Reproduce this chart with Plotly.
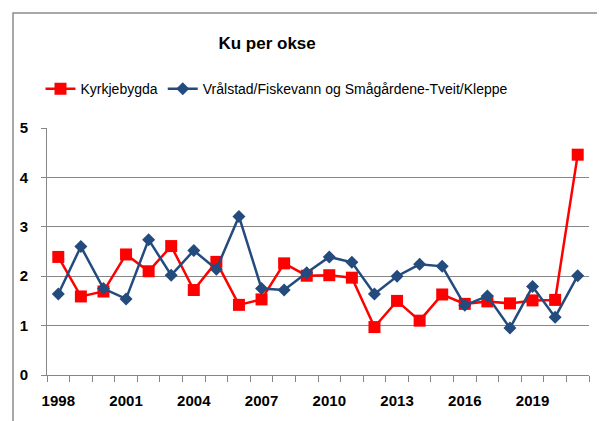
import plotly.graph_objects as go

years = list(range(1998, 2022))
kyrkjebygda = [2.39, 1.59, 1.69, 2.44, 2.10, 2.61, 1.72, 2.29, 1.42, 1.53, 2.26, 2.01,
               2.02, 1.97, 0.97, 1.50, 1.10, 1.63, 1.44, 1.49, 1.45, 1.51, 1.52, 4.46]
vralstad = [1.64, 2.60, 1.75, 1.54, 2.74, 2.02, 2.52, 2.14, 3.21, 1.75, 1.72, 2.07,
            2.39, 2.28, 1.64, 2.00, 2.24, 2.20, 1.41, 1.60, 0.95, 1.79, 1.17, 2.01]
tick_years = [1998, 2001, 2004, 2007, 2010, 2013, 2016, 2019]

FONT = "Liberation Sans, Arial, sans-serif"
GRAY = "#868686"

fig = go.Figure()
fig.add_trace(go.Scatter(x=years, y=kyrkjebygda, name="Kyrkjebygda", mode="lines+markers",
                         line=dict(color="#FF0000", width=2.5),
                         marker=dict(symbol="square", size=12, color="#FF0000")))
fig.add_trace(go.Scatter(x=years, y=vralstad, name="Vrålstad/Fiskevann og Smågårdene-Tveit/Kleppe",
                         mode="lines+markers",
                         line=dict(color="#234B7E", width=2.5),
                         marker=dict(symbol="diamond", size=10, color="#234B7E")))

fig.update_layout(
    width=597, height=413,
    margin=dict(l=35, r=16, t=120, b=44),
    paper_bgcolor="white", plot_bgcolor="white",
    font=dict(family=FONT, color="black", size=14),
    title=dict(text="<b>Ku per okse</b>", x=0.434, xanchor="center", y=0.915,
               yanchor="middle", font=dict(size=17, family=FONT)),
    legend=dict(orientation="h", x=-0.012, xanchor="left", y=1.157, yanchor="middle",
                font=dict(size=14, family=FONT), itemwidth=30, tracegroupgap=0),
    xaxis=dict(range=[1997.5, 2021.5], tickvals=tick_years, ticks="", showgrid=False,
               showline=True, linecolor=GRAY, linewidth=1, ticklabelstandoff=12,
               tickfont=dict(size=15, family=FONT, weight="bold"),
               minor=dict(tick0=1997.5, dtick=1, ticks="outside", ticklen=6,
                          tickcolor=GRAY, showgrid=False)),
    yaxis=dict(range=[0, 5], dtick=1, showgrid=True, gridcolor=GRAY, gridwidth=1,
               showline=True, linecolor=GRAY, linewidth=1, ticks="outside",
               ticklen=5, tickcolor=GRAY, zeroline=False, ticklabelstandoff=10,
               tickfont=dict(size=15, family=FONT, weight="bold")),
    shapes=[dict(type="rect", xref="paper", yref="paper", x0=-0.0627, x1=1.2, y0=-0.4, y1=1.466,
                 line=dict(color="#8c8c8c", width=1.5), fillcolor="rgba(0,0,0,0)", layer="below")],
)
fig.write_html("out.html")
